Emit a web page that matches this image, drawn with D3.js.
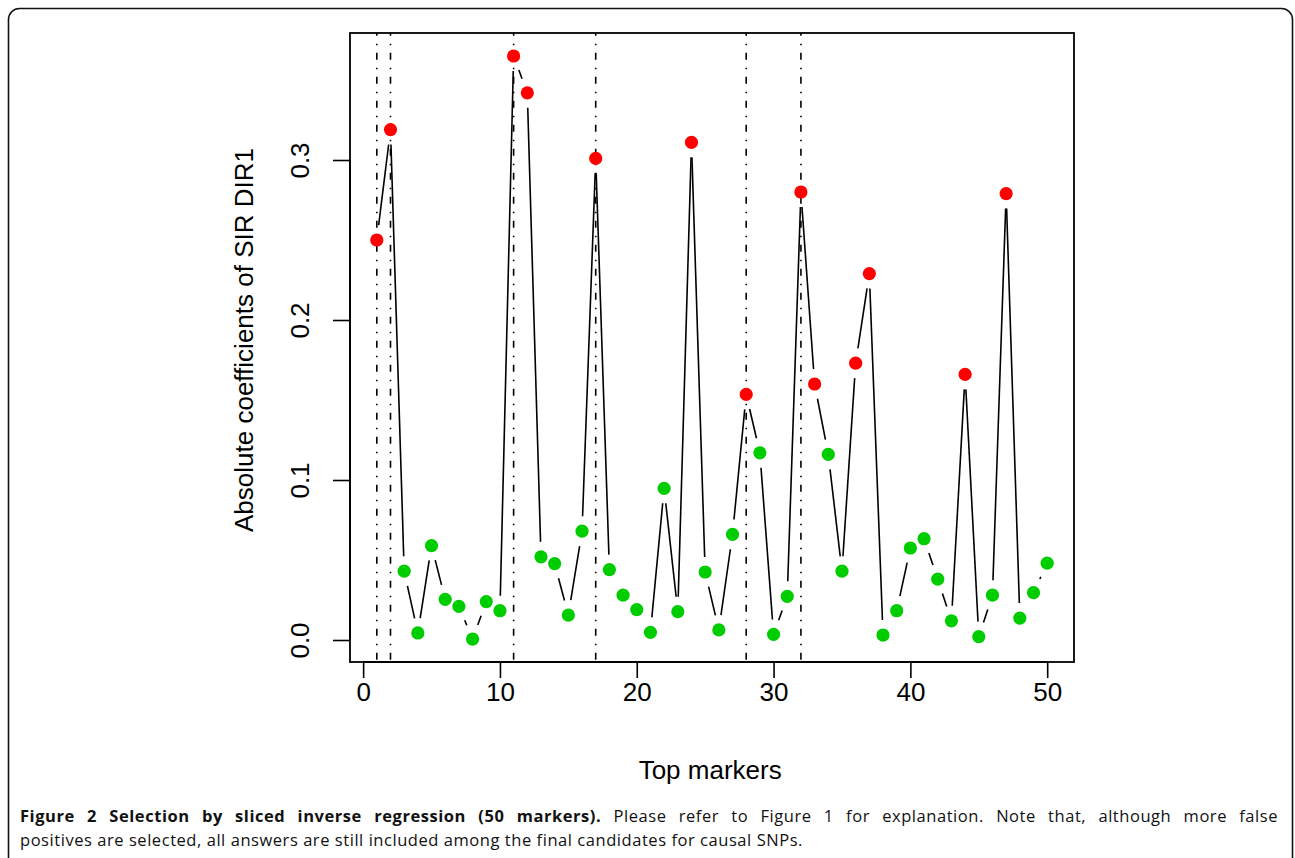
<!DOCTYPE html>
<html>
<head>
<meta charset="utf-8">
<script src="https://cdn.jsdelivr.net/npm/d3@7"></script>
<style>
  html, body { margin: 0; padding: 0; background: #fff; }
  svg { display: block; }
</style>
</head>
<body>
<svg id="chart" width="1295" height="858"></svg>
<script>
// ---- data ----
const markers = d3.range(1, 51);
const coefficients = [
  0.250, 0.319, 0.043, 0.0044, 0.059, 0.0254, 0.021, 0.0006, 0.024, 0.0183,
  0.365, 0.342, 0.052, 0.0477, 0.0156, 0.068, 0.301, 0.044, 0.028, 0.019,
  0.0048, 0.0948, 0.0177, 0.311, 0.0425, 0.0063, 0.066, 0.1535, 0.117, 0.0035,
  0.0273, 0.280, 0.160, 0.116, 0.043, 0.173, 0.229, 0.0031, 0.0183, 0.0575,
  0.0633, 0.038, 0.012, 0.166, 0.0021, 0.028, 0.279, 0.0137, 0.0296, 0.048
];
const selectedMarkers = [1, 2, 11, 12, 17, 24, 28, 32, 33, 36, 37, 44, 47];
const causalMarkers = [1, 2, 11, 17, 28, 32];
const xTicks = [0, 10, 20, 30, 40, 50];
const yTicks = [0.0, 0.1, 0.2, 0.3];
const xTitle = "Top markers";
const yTitle = "Absolute coefficients of SIR DIR1";
const captionBold = "Figure 2 Selection by sliced inverse regression (50 markers).";
const captionLine1 = " Please refer to Figure 1 for explanation. Note that, although more false";
const captionLine2 = "positives are selected, all answers are still included among the final candidates for causal SNPs.";

// ---- layout ----
const svg = d3.select("#chart");
const box = { left: 350, right: 1074, top: 33, bottom: 662 };

// R-style 4% extension of the data ranges
const xr = d3.extent(markers);
const xPad = (xr[1] - xr[0]) * 0.04;
const x = d3.scaleLinear().domain([xr[0] - xPad, xr[1] + xPad]).range([box.left, box.right]);
const y = d3.scaleLinear().domain([-0.01375, 0.379375]).range([box.bottom, box.top]);

// outer figure frame
svg.append("rect")
  .attr("x", 8.5).attr("y", 8.5).attr("width", 1284).attr("height", 880)
  .attr("rx", 11).attr("ry", 11)
  .attr("fill", "none").attr("stroke", "#111").attr("stroke-width", 1.6);

// vertical dot-dash lines at causal markers
svg.append("g").selectAll("line").data(causalMarkers).join("line")
  .attr("x1", d => x(d)).attr("x2", d => x(d))
  .attr("y1", box.top).attr("y2", box.bottom)
  .attr("stroke", "#000").attr("stroke-width", 1.6)
  .attr("stroke-dasharray", "7,8,1.5,7.5").attr("stroke-dashoffset", 4.3);

// connecting segments (type "b": gaps around points)
const pts = markers.map((m, i) => ({ m, v: coefficients[i] }));
const gap = 15;
const segs = [];
for (let i = 0; i < pts.length - 1; i++) {
  const x0 = x(pts[i].m), y0 = y(pts[i].v), x1 = x(pts[i + 1].m), y1 = y(pts[i + 1].v);
  const dx = x1 - x0, dy = y1 - y0, L = Math.hypot(dx, dy);
  if (L > 2 * gap) {
    const ux = dx / L, uy = dy / L;
    segs.push({ x0: x0 + ux * gap, y0: y0 + uy * gap, x1: x1 - ux * gap, y1: y1 - uy * gap });
  }
}
svg.append("g").selectAll("line").data(segs).join("line")
  .attr("x1", d => d.x0).attr("y1", d => d.y0)
  .attr("x2", d => d.x1).attr("y2", d => d.y1)
  .attr("stroke", "#000").attr("stroke-width", 1.6);

// points
svg.append("g").selectAll("circle").data(pts).join("circle")
  .attr("cx", d => x(d.m)).attr("cy", d => y(d.v)).attr("r", 6.6)
  .attr("fill", d => selectedMarkers.includes(d.m) ? "#ff0000" : "#00cd00");

// plot box
svg.append("rect")
  .attr("x", box.left).attr("y", box.top)
  .attr("width", box.right - box.left).attr("height", box.bottom - box.top)
  .attr("fill", "none").attr("stroke", "#000").attr("stroke-width", 1.8);

// axes
const axFont = "'Liberation Sans', Arial, sans-serif";
const fs = 26;
const xAxis = svg.append("g").attr("transform", `translate(0,${box.bottom})`)
  .call(d3.axisBottom(x).tickValues(xTicks).tickFormat(d3.format("d")).tickSize(16).tickPadding(4.5));
const yAxis = svg.append("g").attr("transform", `translate(${box.left},0)`)
  .call(d3.axisLeft(y).tickValues(yTicks).tickFormat(d3.format(".1f")).tickSize(17));
[xAxis, yAxis].forEach(g => {
  g.select(".domain").attr("stroke", "#000").attr("stroke-width", 1.8);
  g.selectAll(".tick line").attr("stroke", "#000").attr("stroke-width", 1.6);
  g.selectAll("text").attr("fill", "#000").style("font-family", axFont).style("font-size", fs + "px");
});
xAxis.select(".domain").attr("d", `M${x(0)},0H${x(50)}`);
yAxis.select(".domain").attr("d", `M0,${y(0)}V${y(0.3)}`);
yAxis.selectAll(".tick text")
  .attr("transform", "translate(-50,0) rotate(-90)")
  .attr("x", 0).attr("y", 0).attr("dy", "0.35em")
  .attr("text-anchor", "middle");

// axis titles
svg.append("text").attr("x", (x(0) + x(50)) / 2 + 5).attr("y", 779)
  .attr("text-anchor", "middle").style("font-family", axFont).style("font-size", fs + "px")
  .text(xTitle);
svg.append("text").attr("transform", `translate(253,340) rotate(-90)`)
  .attr("text-anchor", "middle").style("font-family", axFont).style("font-size", fs + "px")
  .text(yTitle);

// caption
const capFont = "'Open Sans', 'Noto Sans', sans-serif";
const capSize = "16.5px", capLS = "0.55px";
const cap1 = svg.append("text").attr("x", 20).attr("y", 822)
  .style("font-family", capFont).style("font-size", capSize).style("letter-spacing", capLS)
  .attr("fill", "#111");
cap1.append("tspan").style("font-weight", "bold").text(captionBold);
cap1.append("tspan").text(captionLine1);
const target = 1278 - 20;
const len = cap1.node().getComputedTextLength();
const nSpaces = (captionBold + captionLine1).split(" ").length - 1;
cap1.style("word-spacing", Math.max(0, (target - len) / nSpaces) + "px");
svg.append("text").attr("x", 20).attr("y", 846)
  .style("font-family", capFont).style("font-size", capSize).style("letter-spacing", capLS)
  .attr("fill", "#111")
  .text(captionLine2);
</script>
</body>
</html>
